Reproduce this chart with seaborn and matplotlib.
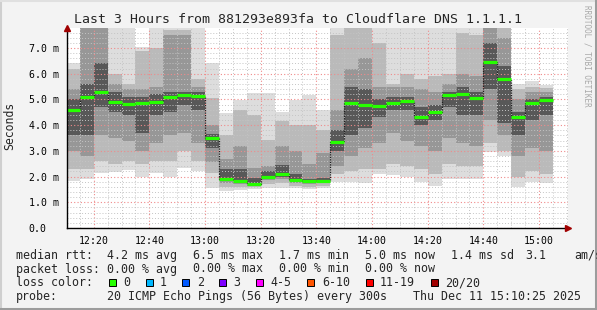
import numpy as np
import pandas as pd
import matplotlib
matplotlib.use("Agg")
import matplotlib.pyplot as plt
import seaborn as sns
from matplotlib.ticker import FixedLocator, MultipleLocator, FuncFormatter
from matplotlib.patches import Rectangle
from matplotlib.lines import Line2D

# ---------------- data ----------------
window_start = "12:10:25"
window_end = "15:10:25"
# end time of each 5-minute smoke bar (300 s step)
bar_end_times = pd.date_range("2025-12-11 12:15", "2025-12-11 15:05", freq="5min")

# ping rtt bands per bar (milliseconds), light (outer) -> dark (inner)
ping_min = [1.83, 1.89, 2.15, 2.19, 2.26, 1.97, 2.14, 1.97, 2.35, 2.23,
            1.55, 1.44, 1.46, 1.50, 1.55, 1.55, 1.55, 1.50, 1.55, 1.80,
            1.80, 1.76, 2.10, 2.06, 1.99, 1.80, 1.65, 1.89, 1.90, 1.92,
            2.97, 2.80, 1.61, 1.80, 1.75]
band2_lo = [2.3, 2.3, 2.6, 2.5, 2.6, 2.5, 2.6, 2.6, 3.0, 2.6,
            2.13, 1.6, 1.6, 1.6, 1.7, 1.75, 1.65, 1.6, 1.65, 2.1,
            2.2, 2.3, 2.3, 2.5, 2.4, 2.3, 2.1, 2.5, 2.4, 2.4,
            3.3, 3.0, 2.0, 2.2, 2.1]
band3_lo = [3.0, 2.8, 3.6, 3.5, 3.4, 3.0, 3.3, 3.6, 3.7, 3.3,
            2.58, 1.75, 1.7, 1.65, 1.85, 1.9, 1.75, 1.7, 1.75, 2.4,
            2.8, 3.1, 3.3, 3.7, 3.4, 3.2, 3.0, 3.5, 3.3, 3.2,
            4.2, 3.6, 2.8, 3.1, 3.0]
band4_lo = [3.6, 3.6, 4.7, 4.5, 4.4, 3.7, 4.4, 4.5, 4.8, 4.6,
            3.1, 1.85, 1.78, 1.7, 1.95, 2.0, 1.82, 1.8, 1.8, 3.0,
            3.6, 3.9, 4.3, 4.6, 4.6, 4.0, 4.2, 4.7, 4.4, 4.4,
            5.4, 4.1, 3.6, 4.2, 4.4]
median_rtt = [4.60, 5.10, 5.30, 4.91, 4.82, 4.88, 4.91, 5.11, 5.18, 5.15,
              3.51, 1.91, 1.83, 1.73, 2.00, 2.11, 1.87, 1.84, 1.83, 3.35,
              4.88, 4.80, 4.76, 4.88, 4.93, 4.33, 4.51, 5.18, 5.21, 5.06,
              6.47, 5.81, 4.33, 4.88, 4.99]
band4_hi = [5.0, 5.6, 6.4, 5.3, 5.1, 5.1, 5.2, 5.3, 5.3, 5.3,
            3.65, 2.3, 2.3, 1.93, 2.2, 2.45, 2.1, 1.9, 1.95, 3.8,
            5.5, 5.4, 5.0, 5.1, 5.1, 4.7, 4.8, 5.3, 5.5, 5.3,
            7.2, 6.3, 4.5, 5.0, 5.1]
band3_hi = [5.4, 7.9, 7.9, 5.6, 5.4, 5.4, 5.5, 7.5, 7.5, 5.5,
            4.0, 2.7, 3.2, 2.32, 2.4, 3.2, 3.0, 2.5, 2.9, 4.6,
            6.2, 6.6, 5.5, 5.5, 5.5, 5.4, 5.3, 5.6, 6.0, 5.9,
            7.9, 7.4, 5.0, 5.3, 5.3]
band2_hi = [6.2, 7.9, 7.9, 6.0, 5.6, 6.9, 7.0, 7.7, 7.7, 5.8,
            5.05, 3.6, 4.6, 4.4, 3.42, 4.15, 4.0, 4.0, 3.8, 7.5,
            7.9, 7.9, 7.2, 5.6, 6.0, 5.8, 5.9, 6.0, 7.6, 7.5,
            7.9, 7.9, 5.4, 5.5, 5.45]
ping_max = [6.4, 7.9, 7.9, 7.9, 7.9, 7.05, 7.9, 7.9, 7.9, 7.9,
            6.4, 4.46, 4.98, 5.24, 5.24, 4.53, 4.98, 5.17, 4.59, 7.9,
            7.9, 7.9, 7.9, 7.9, 7.9, 7.9, 7.9, 7.9, 7.9, 7.9,
            7.9, 7.9, 5.6, 5.72, 5.56]

x_tick_labels = ["12:20", "12:40", "13:00", "13:20", "13:40",
                 "14:00", "14:20", "14:40", "15:00"]
y_ticks = [0, 1, 2, 3, 4, 5, 6, 7]

title = "Last 3 Hours from 881293e893fa to Cloudflare DNS 1.1.1.1"
stats_rtt = [("median rtt:", 16), ("4.2 ms avg", 107), ("6.5 ms max", 193),
             ("1.7 ms min", 279), ("5.0 ms now", 365), ("1.4 ms sd", 451),
             ("3.1", 525), ("am/s", 574)]
stats_loss = [("packet loss:", 16), ("0.00 % avg", 107), ("0.00 % max", 193),
              ("0.00 % min", 279), ("0.00 % now", 365)]
loss_labels = ["0", "1", "2", "3", "4-5", "6-10", "11-19", "20/20"]
loss_colors = ["#26ff00", "#00b8ff", "#0059ff", "#7e00ff", "#ff00ff",
               "#ff5500", "#ff0000", "#a10000"]
probe_text = "20 ICMP Echo Pings (56 Bytes) every 300s"
date_text = "Thu Dec 11 15:10:25 2025"

# ---------------- helpers ----------------
base = pd.Timestamp("2025-12-11 12:00")
def to_min(ts):
    return (pd.Timestamp(ts) - base).total_seconds() / 60.0

end_min = np.array([to_min(t) for t in bar_end_times])
start_min = end_min - 5.0
x_edges = np.append(start_min, end_min[-1])
def ext(a):
    a = np.asarray(a, dtype=float)
    return np.append(a, a[-1])

x0 = to_min("2025-12-11 " + window_start)
x1 = to_min("2025-12-11 " + window_end)
tick_pos = [to_min("2025-12-11 " + s) for s in x_tick_labels]

# ---------------- figure ----------------
sns.set_style("white")
plt.rcParams["font.family"] = ["DejaVu Sans Mono"]

W, H = 597, 310
fig = plt.figure(figsize=(W / 100, H / 100), dpi=100, facecolor="#f3f3f3")
ax = fig.add_axes([67 / W, (H - 228) / H, 501 / W, 200 / H])
ax.set_facecolor("white")

bands = [(ping_min, ping_max, "#dddddd"),
         (band2_lo, band2_hi, "#bababa"),
         (band3_lo, band3_hi, "#979797"),
         (band4_lo, band4_hi, "#585858")]
for lo, hi, col in bands:
    ax.fill_between(x_edges, ext(lo), ext(hi), step="post", color=col,
                    lw=0, zorder=1)

# median step (dark dotted connector) + green loss-colored segments
sns.lineplot(x=x_edges, y=ext(median_rtt), drawstyle="steps-post",
             estimator=None, sort=False, color="#202020", lw=0.9,
             ls=(0, (1, 1)), ax=ax, zorder=3)
ax.hlines(median_rtt, start_min, end_min, color=loss_colors[0], lw=2.3,
          zorder=4)

ax.set_xlim(x0, x1)
ax.set_ylim(0, 7.78)
ax.xaxis.set_major_locator(FixedLocator(tick_pos))
ax.xaxis.set_minor_locator(MultipleLocator(5))
ax.yaxis.set_major_locator(FixedLocator(y_ticks))
ax.yaxis.set_minor_locator(MultipleLocator(0.2))
ax.set_xticklabels(x_tick_labels)
ax.yaxis.set_major_formatter(FuncFormatter(
    lambda v, p: "0.0" if v == 0 else f"{v:.1f} m"))

ax.set_axisbelow(False)
ax.grid(which="minor", color="#c4c4c4", ls=(0, (1, 2)), lw=0.7)
ax.grid(which="major", color="#f08a8a", ls=(0, (1, 2)), lw=0.8)

for s in ["top", "right"]:
    ax.spines[s].set_visible(False)
for s in ["left", "bottom"]:
    ax.spines[s].set_color("black")
    ax.spines[s].set_linewidth(1.0)
    ax.spines[s].set_zorder(5)

ax.tick_params(axis="both", which="major", labelsize=7.1, colors="black",
               length=3, width=0.8, direction="out")
ax.tick_params(axis="x", which="major", pad=2.5)
ax.tick_params(axis="y", which="major", pad=24.5)
ax.tick_params(axis="both", which="minor", length=2, width=0.6, color="black")
for lab in ax.get_yticklabels():
    lab.set_horizontalalignment("left")

# axis arrows
ax.plot([1.0], [0.0], marker=">", ms=4.5, color="#a00000",
        transform=ax.transAxes, clip_on=False, zorder=6)
ax.plot([0.0], [1.0], marker="^", ms=4.5, color="#a00000",
        transform=ax.transAxes, clip_on=False, zorder=6)

# ---------------- texts ----------------
def fx(px):
    return px / W
def fy(py):
    return 1 - py / H

fig.text(fx(298), fy(23), title, ha="center", va="baseline", fontsize=9.5)
fig.text(fx(10), fy(126), "Seconds", rotation=90, ha="center", va="center",
         fontsize=8.3)
fig.text(fx(587), fy(5), "RRDTOOL / TOBI OETIKER", rotation=270, ha="center",
         va="top", fontsize=5.5, color="#a8a8a8")

lfs = 8.4
for txt, px in stats_rtt:
    fig.text(fx(px), fy(259), txt, ha="left", va="baseline", fontsize=lfs)
for txt, px in stats_loss:
    fig.text(fx(px), fy(272.5), txt, ha="left", va="baseline", fontsize=lfs)
fig.text(fx(16), fy(286), "loss color:", ha="left", va="baseline", fontsize=lfs)
box_x = [109, 146, 182, 219, 256, 307, 366, 431]
lab_x = [123, 160, 197, 233, 270, 322, 380, 445]
for lbl, col, bx, lx in zip(loss_labels, loss_colors, box_x, lab_x):
    fig.add_artist(Rectangle((fx(bx), fy(285.5)), 7 / W, 7 / H,
                             transform=fig.transFigure, facecolor=col,
                             edgecolor="black", lw=0.7))
    fig.text(fx(lx), fy(286), lbl, ha="left", va="baseline", fontsize=lfs)
fig.text(fx(16), fy(300), "probe:", ha="left", va="baseline", fontsize=lfs)
fig.text(fx(107), fy(300), probe_text, ha="left", va="baseline", fontsize=lfs)
fig.text(fx(413), fy(300), date_text, ha="left", va="baseline", fontsize=lfs)

# frame border (3D-like)
fig.add_artist(Line2D([0.5 / W, 0.5 / W], [0, 1], color="#cfcfcf", lw=1.5,
                      transform=fig.transFigure))
fig.add_artist(Line2D([0, 1], [1 - 0.5 / H, 1 - 0.5 / H], color="#e0e0e0",
                      lw=1.5, transform=fig.transFigure))
fig.add_artist(Line2D([0, 1], [1.5 / H, 1.5 / H], color="#9c9c9c", lw=2.2,
                      transform=fig.transFigure))
fig.add_artist(Line2D([1 - 1.5 / W, 1 - 1.5 / W], [0, 1], color="#9c9c9c",
                      lw=2.2, transform=fig.transFigure))

fig.savefig("out.png", dpi=100, facecolor=fig.get_facecolor())
